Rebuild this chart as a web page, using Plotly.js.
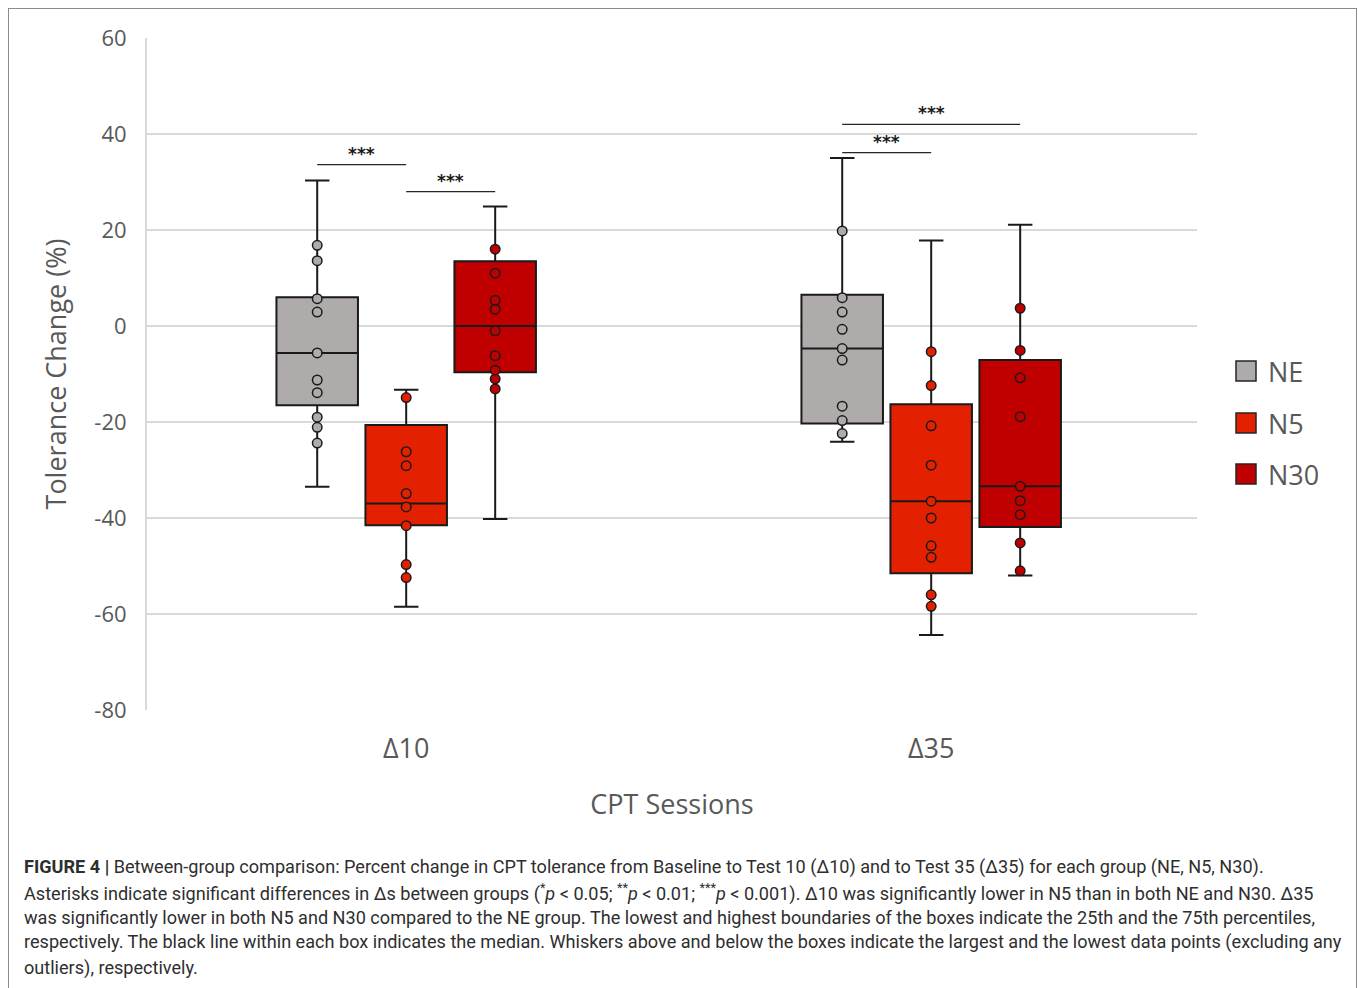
<!DOCTYPE html>
<html><head><meta charset="utf-8">
<script src="https://cdn.plot.ly/plotly-3.0.1.min.js"></script>
<style>
html,body{margin:0;padding:0;background:#fff;}
#chart{width:1358px;height:988px;}
#frame{position:absolute;left:8px;top:8px;width:1347px;height:1010px;border:1px solid #8c8c8c;pointer-events:none;}
</style>
</head><body>
<div id="chart"></div><div id="frame"></div>
<script>
// ---- data ----
const sessions = ['Δ10', 'Δ35'];
const groupNames = ['NE', 'N5', 'N30'];
const groupColors = ['#afabab', '#e32000', '#c00000'];

const neLower = [-33.5, -24.1];
const neQ1 = [-16.5, -20.3];
const neMedian = [-5.6, -4.7];
const neQ3 = [6.0, 6.5];
const neUpper = [30.3, 35.0];
const nePtsD10 = [16.8, 13.6, 5.7, 2.9, -5.6, -11.25, -13.9, -19.0, -21.1, -24.4];
const nePtsD35 = [19.8, 5.9, 2.9, -0.7, -4.7, -7.1, -16.7, -19.7, -22.4];

const n5Lower = [-58.5, -64.4];
const n5Q1 = [-41.5, -51.5];
const n5Median = [-37.0, -36.5];
const n5Q3 = [-20.6, -16.3];
const n5Upper = [-13.3, 17.8];
const n5PtsD10 = [-14.9, -26.2, -29.1, -34.9, -37.7, -41.6, -49.7, -52.4];
const n5PtsD35 = [-5.35, -12.4, -20.8, -29.0, -36.5, -40.0, -45.8, -48.2, -56.0, -58.4];

const n30Lower = [-40.2, -52.0];
const n30Q1 = [-9.65, -41.9];
const n30Median = [0.0, -33.4];
const n30Q3 = [13.5, -7.1];
const n30Upper = [24.9, 21.1];
const n30PtsD10 = [16.0, 11.0, 5.35, 3.5, -1.0, -6.2, -9.2, -11.0, -13.1];
const n30PtsD35 = [3.7, -5.1, -10.8, -18.9, -33.4, -36.4, -39.3, -45.2, -51.0];

// significance brackets
const sigSession = [0, 0, 1, 1];
const sigFrom = [0, 1, 0, 0];
const sigTo = [1, 2, 1, 2];
const sigHeight = [33.6, 28.0, 36.1, 42.0];
const sigLabel = ['***', '***', '***', '***'];

const yTicks = [-80, -60, -40, -20, 0, 20, 40, 60];

const captionLines = [
  '<b>FIGURE 4 |</b> Between-group comparison: Percent change in CPT tolerance from Baseline to Test 10 (Δ10) and to Test 35 (Δ35) for each group (NE, N5, N30).',
  'Asterisks indicate significant differences in Δs between groups (<sup>*</sup><i>p</i> < 0.05; <sup>**</sup><i>p</i> < 0.01; <sup>***</sup><i>p</i> < 0.001). Δ10 was significantly lower in N5 than in both NE and N30. Δ35',
  'was significantly lower in both N5 and N30 compared to the NE group. The lowest and highest boundaries of the boxes indicate the 25th and the 75th percentiles,',
  'respectively. The black line within each box indicates the median. Whiskers above and below the boxes indicate the largest and the lowest data points (excluding any',
  'outliers), respectively.'
];

// ---- styling ----
const axisFont = 'Open Sans, DejaVu Sans, sans-serif';
const axisColor = '#595959';
const W = 1358, H = 988;
const M = {l: 147, r: 161, t: 38, b: 278};
const boxgap = 0.4915, boxgroupgap = 0.084;
const xRange = [-0.4937, 1.5063];

const stats = [
  [neLower, neQ1, neMedian, neQ3, neUpper, [nePtsD10, nePtsD35]],
  [n5Lower, n5Q1, n5Median, n5Q3, n5Upper, [n5PtsD10, n5PtsD35]],
  [n30Lower, n30Q1, n30Median, n30Q3, n30Upper, [n30PtsD10, n30PtsD35]]
];

const traces = groupNames.map((name, g) => ({
  type: 'box',
  name: name,
  x: sessions,
  lowerfence: stats[g][0],
  q1: stats[g][1],
  median: stats[g][2],
  q3: stats[g][3],
  upperfence: stats[g][4],
  y: stats[g][5],
  boxpoints: 'all',
  jitter: 0,
  pointpos: 0,
  fillcolor: groupColors[g],
  line: {color: '#1a1a1a', width: 2},
  marker: {color: groupColors[g], size: 9.5, line: {color: '#1a1a1a', width: 1.5}},
  whiskerwidth: 0.3,
  showlegend: false,
  hoverinfo: 'skip'
}));

const slot = (1 - boxgap) / groupNames.length;
const groupOffset = g => (g - (groupNames.length - 1) / 2) * slot;

const plotH = H - M.t - M.b, plotW = W - M.l - M.r;
const pxToPaperY = py => (H - M.b - py) / plotH;
const pxToPaperX = px => (px - M.l) / plotW;

const shapes = [];
const annotations = [];
sigSession.forEach((s, i) => {
  const x0 = s + groupOffset(sigFrom[i]);
  const x1 = s + groupOffset(sigTo[i]);
  shapes.push({type: 'line', xref: 'x', yref: 'y', x0: x0, x1: x1, y0: sigHeight[i], y1: sigHeight[i],
    line: {color: '#262626', width: 1.3}});
  annotations.push({xref: 'x', yref: 'y', x: (x0 + x1) / 2, y: sigHeight[i], text: '<b>' + sigLabel[i] + '</b>',
    showarrow: false, yanchor: 'middle', yshift: 11,
    font: {family: 'DejaVu Sans, sans-serif', size: 17, color: '#1a1a1a'}});
});

// legend (squares + labels)
const legendRowY = [371, 423, 474];
groupNames.forEach((name, g) => {
  const cy = legendRowY[g];
  shapes.push({type: 'rect', xref: 'paper', yref: 'paper',
    x0: pxToPaperX(1236), x1: pxToPaperX(1256), y0: pxToPaperY(cy - 10), y1: pxToPaperY(cy + 10),
    fillcolor: groupColors[g], line: {color: '#262626', width: 1.5}});
  annotations.push({xref: 'paper', yref: 'paper', x: pxToPaperX(1266), y: pxToPaperY(cy),
    xanchor: 'left', yanchor: 'middle', showarrow: false, text: name,
    font: {family: axisFont, size: 27, color: axisColor}});
});

const captionY = [867, 892, 917, 942, 968];
captionLines.forEach((t, i) => {
  annotations.push({xref: 'paper', yref: 'paper', x: pxToPaperX(22), y: pxToPaperY(captionY[i]),
    xanchor: 'left', yanchor: 'middle', align: 'left', showarrow: false, text: t,
    font: {family: 'Roboto, Liberation Sans, sans-serif', size: 18.1, color: '#2e2e2e'}});
});

const layout = {
  width: W, height: H,
  margin: M,
  paper_bgcolor: '#fff', plot_bgcolor: '#fff',
  boxmode: 'group', boxgap: boxgap, boxgroupgap: boxgroupgap,
  showlegend: false,
  xaxis: {type: 'category', range: xRange, showgrid: false, zeroline: false, showline: false, ticks: '',
    ticklabelstandoff: 20,
    tickfont: {family: axisFont, size: 27, color: axisColor},
    title: {text: 'CPT Sessions', font: {family: axisFont, size: 27, color: axisColor}, standoff: 30}},
  yaxis: {range: [-80, 60], tickvals: yTicks, ticktext: yTicks.map(String),
    showgrid: true, gridcolor: '#d9d9d9', gridwidth: 2,
    zeroline: false, showline: true, linecolor: '#d9d9d9', linewidth: 2,
    ticks: '', ticklabelstandoff: 14,
    tickfont: {family: axisFont, size: 22, color: axisColor},
    title: {text: 'Tolerance Change (%)', font: {family: axisFont, size: 27, color: axisColor}, standoff: 20}},
  shapes: shapes,
  annotations: annotations
};

Plotly.newPlot('chart', traces, layout, {displayModeBar: false, staticPlot: true});
</script>
</body></html>
